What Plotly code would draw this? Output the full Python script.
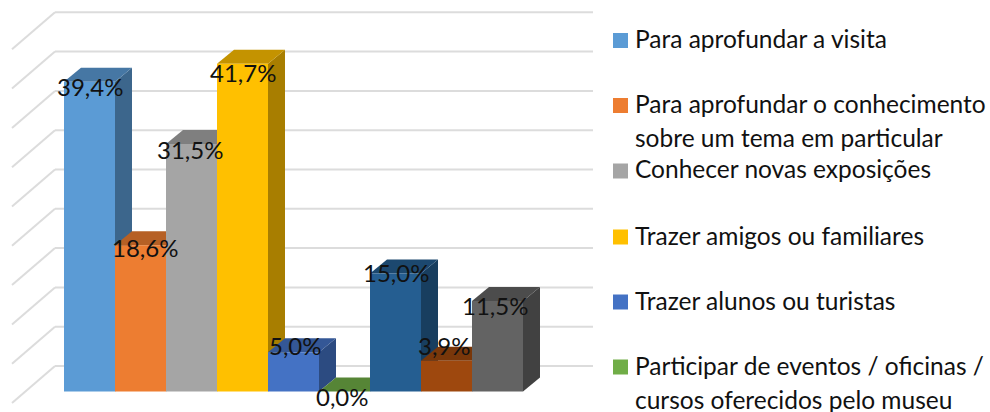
import plotly.graph_objects as go

# ---- data
values = [39.4, 18.6, 31.5, 41.7, 5.0, 0.0, 15.0, 3.9, 11.5]
legend_names = [
    "Para aprofundar a visita",
    "Para aprofundar o conhecimento\nsobre um tema em particular",
    "Conhecer novas exposições",
    "Trazer amigos ou familiares",
    "Trazer alunos ou turistas",
    "Participar de eventos / oficinas /\ncursos oferecidos pelo museu",
]
colors = ["#5B9BD5", "#ED7D31", "#A5A5A5", "#FFC000", "#4472C4",
          "#70AD47", "#255E91", "#9E480E", "#636363"]
grid_ticks = [0, 5, 10, 15, 20, 25, 30, 35, 40, 45]

# ---- layout constants (pixels)
W, H = 990, 412
BAR_W = 51.0
BASE_PX = 391.5
X0_PX = 89.5
PX_PER_PCT = 7.86
DX, DY = 17 / BAR_W, 14 / PX_PER_PCT          # bar depth in data units
WALL_DY = (BASE_PX - 366) / PX_PER_PCT
FLOOR_FRONT_DY = (BASE_PX - 403) / PX_PER_PCT
WALL_X_FRONT = (12 - X0_PX) / BAR_W
WALL_X_BACK = (55 - X0_PX) / BAR_W
WALL_X_RIGHT = (593 - X0_PX) / BAR_W
FONT = "Lato"
LABEL_SIZE = 24
LEGEND_SIZE = 24.5
label_shift = [(0, -5), (4, -2), (-2, -6), (0, -9), (2, 7), (-2, -5), (0, 1), (-2, 15), (-3, -4)]
legend_y = [40.5, 105.5, 171, 237, 302, 367]
LEGEND_TEXT_DY = -2
LINE_GAP = 34


def shade(hex_color, f):
    r, g, b = (int(hex_color[i:i + 2], 16) for i in (1, 3, 5))
    return f"rgb({int(r * f)},{int(g * f)},{int(b * f)})"


def poly(points):
    return "M" + "L".join(f"{x},{y}" for x, y in points) + "Z"


shapes, annotations = [], []

# gridlines on the walls
for t in grid_ticks:
    for x0, y0, x1, y1 in [
        (WALL_X_FRONT, t + FLOOR_FRONT_DY, WALL_X_BACK, t + WALL_DY),
        (WALL_X_BACK, t + WALL_DY, WALL_X_RIGHT, t + WALL_DY),
    ]:
        shapes.append(dict(type="line", xref="x", yref="y", x0=x0, y0=y0, x1=x1, y1=y1,
                           layer="below", line=dict(color="#DCDCDC", width=2)))

# side and top faces, painted left to right under the bar fronts
for i, (v, c) in enumerate(zip(values, colors)):
    l, r = i - 0.5, i + 0.5
    shapes.append(dict(type="path", xref="x", yref="y", layer="below", line_width=0,
                       fillcolor=shade(c, 0.66),
                       path=poly([(r, 0), (r + DX, DY), (r + DX, v + DY), (r, v)])))
    shapes.append(dict(type="path", xref="x", yref="y", layer="below", line_width=0,
                       fillcolor=shade(c, 0.77),
                       path=poly([(l, v), (l + DX, v + DY), (r + DX, v + DY), (r, v)])))

fig = go.Figure()
for i, (v, c) in enumerate(zip(values, colors)):
    fig.add_trace(go.Bar(x=[i], y=[v], width=1, marker=dict(color=c, line_width=0),
                         name=legend_names[i].replace("\n", " ") if i < len(legend_names) else f"Série {i + 1}",
                         showlegend=False))
    annotations.append(dict(x=i, y=v, xref="x", yref="y", xanchor="center", yanchor="middle",
                            text=f"{v:.1f}".replace(".", ",") + "%", showarrow=False,
                            xshift=label_shift[i][0], yshift=label_shift[i][1],
                            font=dict(family=FONT, size=LABEL_SIZE, color="#111111")))

# legend
for name, ypx, c in zip(legend_names, legend_y, colors):
    shapes.append(dict(type="rect", xref="paper", yref="paper", line_width=0, fillcolor=c,
                       x0=613 / W, x1=628 / W, y0=1 - (ypx + 7.5) / H, y1=1 - (ypx - 7.5) / H))
    for k, line in enumerate(name.split("\n")):
        annotations.append(dict(x=633 / W, y=1 - (ypx + LEGEND_TEXT_DY + k * LINE_GAP) / H,
                                xref="paper", yref="paper",
                                xanchor="left", yanchor="middle", text=line, showarrow=False,
                                font=dict(family=FONT, size=LEGEND_SIZE, color="#111111")))

fig.update_layout(
    width=W, height=H, margin=dict(l=0, r=0, t=0, b=0),
    paper_bgcolor="white", plot_bgcolor="white", barmode="overlay", showlegend=False,
    shapes=shapes, annotations=annotations,
    xaxis=dict(visible=False, range=[-X0_PX / BAR_W, (W - X0_PX) / BAR_W]),
    yaxis=dict(visible=False, range=[(BASE_PX - H) / PX_PER_PCT, BASE_PX / PX_PER_PCT]),
)
fig.write_html("out.html", config=dict(displayModeBar=False),
               post_script="document.body.style.margin='0';document.body.style.overflow='hidden';")
